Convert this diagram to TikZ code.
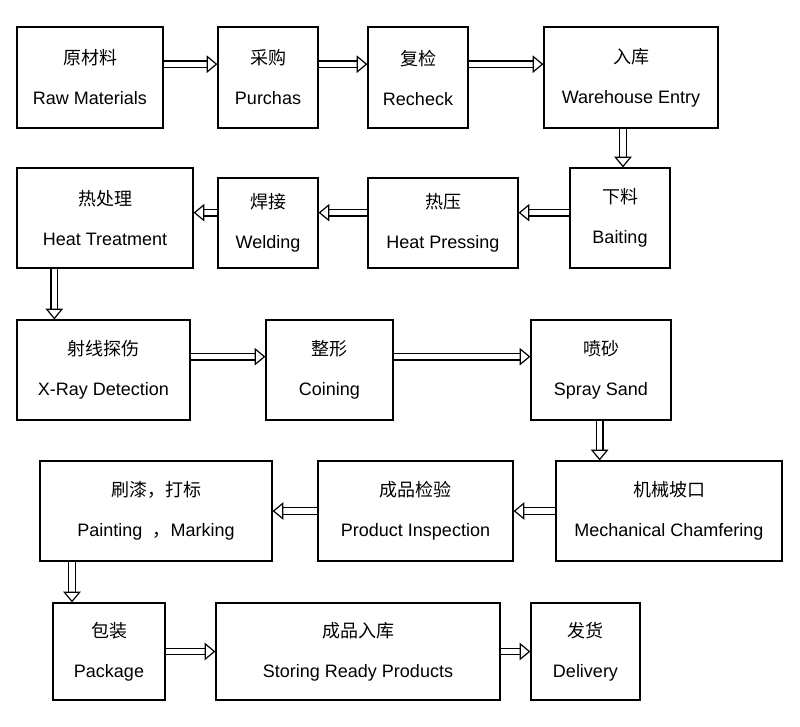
\documentclass[tikz,border=0pt]{standalone}
\usepackage{fontspec}
\setmainfont{Liberation Sans}
\newfontfamily\cjk{Noto Sans CJK SC}
\usetikzlibrary{arrows.meta}
\begin{document}
\begin{tikzpicture}[x=0.75pt,y=-0.75pt,
  box/.style={draw,line width=0.9pt,inner sep=0pt,align=center,font=\fontsize{13.5}{15}\selectfont},
  arr/.style={draw,double,double distance=4pt,line width=0.9pt,-{Triangle[open,length=8pt,width=13pt]}}]
\useasboundingbox (0,0) rectangle (800,726);
\newcommand\stepbox[7]{%
  \node[box,minimum width={(#4-#2)*0.75pt},minimum height={(#5-#3)*0.75pt}] (#1) at ({(#2+#4)/2},{(#3+#5)/2}) {{\cjk #6}\\[15pt]#7};}
\stepbox{raw}{17}{27}{163}{128}{原材料}{Raw Materials}
\stepbox{pur}{218}{27}{318}{128}{采购}{Purchas}
\stepbox{rec}{368}{27}{468}{128}{复检}{Recheck}
\stepbox{ware}{544}{27}{718}{128}{入库}{Warehouse Entry}
\stepbox{heat}{17}{168}{193}{268}{热处理}{Heat Treatment}
\stepbox{weld}{218}{178}{318}{268}{焊接}{Welding}
\stepbox{press}{368}{178}{518}{268}{热压}{Heat Pressing}
\stepbox{bait}{570}{168}{670}{268}{下料}{Baiting}
\stepbox{xray}{17}{320}{190}{420}{射线探伤}{X-Ray Detection}
\stepbox{coin}{266}{320}{393}{420}{整形}{Coining}
\stepbox{sand}{531}{320}{671}{420}{喷砂}{Spray Sand}
\stepbox{paint}{40}{461}{272}{561}{刷漆，打标}{Painting \ {\cjk ，}Marking}
\stepbox{insp}{318}{461}{513}{561}{成品检验}{Product Inspection}
\stepbox{cham}{556}{461}{782}{561}{机械坡口}{Mechanical Chamfering}
\stepbox{pack}{53}{603}{165}{700}{包装}{Package}
\stepbox{store}{216}{603}{500}{700}{成品入库}{Storing Ready Products}
\stepbox{deli}{531}{603}{640}{700}{发货}{Delivery}
% row 1
\draw[arr] ([yshift=10pt]raw.east) -- ([yshift=10pt]raw.east -| pur.west);
\draw[arr] ([yshift=10pt]pur.east) -- ([yshift=10pt]pur.east -| rec.west);
\draw[arr] ([yshift=10pt]rec.east) -- ([yshift=10pt]rec.east -| ware.west);
\draw[arr] ([xshift=-6pt]ware.south) -- ([xshift=-6pt]ware.south |- bait.north);
% row 2
\draw[arr] ([yshift=4pt]bait.west) -- ([yshift=4pt]bait.west -| press.east);
\draw[arr] ([yshift=4pt]bait.west -| press.west) -- ([yshift=4pt]bait.west -| weld.east);
\draw[arr] ([yshift=4pt]bait.west -| weld.west) -- ([yshift=4pt]bait.west -| heat.east);
\draw[arr] ([xshift=-38pt]heat.south) -- ([xshift=-38pt]heat.south |- xray.north);
% row 3
\draw[arr] ([yshift=10pt]xray.east) -- ([yshift=10pt]xray.east -| coin.west);
\draw[arr] ([yshift=10pt]coin.east) -- ([yshift=10pt]coin.east -| sand.west);
\draw[arr] ([xshift=-1pt]sand.south) -- ([xshift=-1pt]sand.south |- cham.north);
% row 4
\draw[arr] (cham.west) -- (cham.west -| insp.east);
\draw[arr] (insp.west) -- (insp.west -| paint.east);
\draw[arr] ([xshift=-63pt]paint.south) -- ([xshift=-63pt]paint.south |- pack.north);
% row 5
\draw[arr] (pack.east) -- (pack.east -| store.west);
\draw[arr] (store.east) -- (store.east -| deli.west);
\end{tikzpicture}
\end{document}
